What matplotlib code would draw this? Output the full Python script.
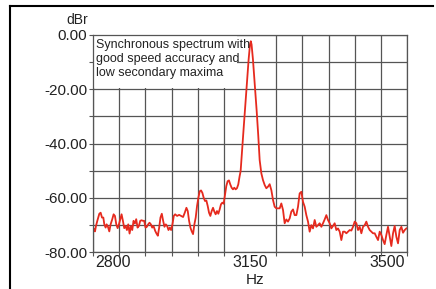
import numpy as np
import matplotlib
matplotlib.use("Agg")
import matplotlib.pyplot as plt
from matplotlib.lines import Line2D
from matplotlib.patches import Rectangle

# spectrum: frequency (Hz) and level (dBr)
freq = [2752.5, 2755.1, 2757.6, 2761.0, 2766.1, 2769.5, 2772.9, 2776.3, 2778.8, 2782.2,
        2784.7, 2788.1, 2791.5, 2794.9, 2799.1, 2802.5, 2805.9, 2809.3, 2812.7, 2816.1,
        2819.5, 2822.8, 2826.2, 2829.6, 2833.0, 2836.4, 2839.8, 2843.2, 2846.6, 2850.0,
        2853.3, 2856.7, 2860.1, 2863.5, 2866.9, 2870.3, 2873.7, 2877.1, 2880.4, 2883.8,
        2887.2, 2890.6, 2894.0, 2897.4, 2900.8, 2904.2, 2908.4, 2911.8, 2915.2, 2918.6,
        2921.9, 2925.3, 2928.7, 2932.1, 2935.5, 2938.9, 2942.3, 2945.7, 2949.0, 2952.4,
        2955.8, 2959.2, 2964.3, 2969.4, 2974.5, 2979.5, 2983.8, 2988.0, 2991.4, 2994.8,
        2998.2, 3001.6, 3004.9, 3008.3, 3011.7, 3015.1, 3018.5, 3021.9, 3025.3, 3028.7,
        3032.0, 3035.4, 3038.8, 3042.2, 3045.6, 3049.0, 3052.4, 3055.8, 3059.1, 3062.5,
        3065.9, 3069.3, 3072.7, 3076.1, 3079.5, 3082.9, 3086.3, 3089.6, 3093.0, 3096.4,
        3099.8, 3103.2, 3106.6, 3110.0, 3113.4, 3116.7, 3120.1, 3123.5, 3126.1,
        3130.0, 3134.0, 3138.0, 3142.0, 3146.5, 3150.0, 3152.0, 3154.0, 3157.5, 3162.0,
        3167.0, 3171.0, 3174.6, 3178.9, 3183.1, 3187.4, 3191.6, 3195.9, 3200.1, 3204.4,
        3208.6, 3212.8, 3217.1, 3221.3, 3225.6, 3229.8, 3234.1, 3238.3, 3242.6, 3246.8,
        3251.1, 3255.3, 3259.6, 3263.8, 3268.1, 3272.3, 3276.5, 3280.8, 3285.0, 3289.3,
        3293.5, 3297.8, 3302.0, 3306.3, 3310.5, 3314.8, 3319.0, 3323.3, 3327.5, 3331.8,
        3336.0, 3340.2, 3344.5, 3348.7, 3353.0, 3357.2, 3361.5, 3365.7, 3370.0, 3374.2,
        3378.5, 3382.7, 3387.0, 3391.2, 3395.5, 3399.7, 3404.0, 3408.2, 3412.5, 3416.7,
        3421.0, 3425.2, 3429.5, 3433.7, 3437.9, 3442.2, 3446.4, 3450.7, 3454.9, 3459.2,
        3463.4, 3467.7, 3471.9, 3476.2, 3480.4, 3484.6, 3488.9, 3493.1, 3497.4, 3501.6,
        3505.9, 3510.1, 3514.4, 3518.6, 3522.9, 3527.1, 3531.4, 3535.6, 3539.9, 3544.1,
        3548.4]
level = [-71.6, -72.4, -70.4, -68.5, -65.9, -65.5, -67.3, -67.3, -69.8, -71.0,
         -69.8, -70.7, -72.4, -69.8, -67.9, -66.1, -66.7, -69.8, -71.2, -69.8,
         -67.9, -66.1, -68.5, -71.2, -70.4, -71.9, -69.8, -73.2, -70.4, -71.9,
         -68.5, -69.5, -67.9, -71.0, -70.4, -68.5, -68.3, -68.5, -68.5, -71.0,
         -70.7, -69.8, -69.2, -69.8, -71.0, -70.4, -72.2, -73.2, -74.0, -71.0,
         -67.3, -65.9, -68.5, -70.7, -69.8, -70.4, -71.9, -71.0, -71.9, -69.8,
         -66.7, -66.1, -66.7, -66.3, -66.7, -67.1, -65.5, -63.7, -64.9, -68.5,
         -71.0, -72.4, -73.4, -69.8, -67.3, -63.0, -60.0, -57.6, -57.3, -58.2,
         -60.0, -61.2, -61.0, -63.0, -65.5, -66.7, -64.9, -63.7, -65.1, -66.1,
         -64.9, -65.9, -64.3, -62.4, -61.8, -62.2, -58.8, -55.7, -53.9, -53.6,
         -55.1, -56.3, -56.9, -56.3, -56.9, -56.5, -55.1, -52.1, -50.2,
         -42.0, -34.0, -26.0, -17.5, -9.0, -3.5, -2.3, -3.5, -9.0, -18.0,
         -28.0, -37.0, -46.1, -51.0, -53.5, -55.3, -56.5, -55.9, -55.0, -57.2,
         -60.8, -63.3, -63.9, -63.9, -63.9, -62.1, -64.5, -69.4, -68.0, -68.8,
         -67.6, -65.1, -64.3, -66.4, -66.4, -63.3, -58.4, -57.8, -61.5, -63.3,
         -66.4, -68.8, -72.5, -70.1, -71.3, -68.2, -70.7, -70.1, -69.4, -70.7,
         -69.4, -68.0, -66.4, -68.2, -69.4, -71.3, -70.4, -69.4, -71.9, -71.3,
         -72.5, -75.6, -72.5, -72.5, -73.1, -72.5, -71.9, -72.1, -70.7, -68.8,
         -69.4, -71.9, -70.7, -73.1, -70.7, -70.1, -68.8, -70.7, -71.9, -72.5,
         -73.1, -73.1, -74.4, -75.6, -72.5, -73.7, -75.6, -77.1, -73.7, -70.7,
         -74.4, -77.8, -73.1, -70.4, -74.4, -76.8, -71.9, -70.7, -72.9, -71.9,
         -71.3]

x_ticks = [2800, 3150, 3500]
y_ticks = [-80, -60, -40, -20, 0]
note = "Synchronous spectrum with\ngood speed accuracy and\nlow secondary maxima"

plt.rcParams['font.family'] = ['Liberation Sans', 'DejaVu Sans']

fig = plt.figure(figsize=(4.36, 2.89), dpi=100)
ax = fig.add_axes([0.2133, 0.128, 0.7202, 0.7509])

grid_col = '#555555'
ax.set_xlim(2750, 3550)
ax.set_ylim(-80, 0)

ax.set_xticks(x_ticks)
ax.set_xticks(np.linspace(2750, 3550, 13), minor=True)
ax.set_yticks(y_ticks)
ax.set_yticks(np.arange(-80, 1, 10), minor=True)
ax.set_yticklabels(["%.2f" % v for v in y_ticks])

ax.tick_params(axis='x', which='major', length=0, pad=2.5, labelsize=11.5, labelcolor='#222222')
ax.tick_params(axis='x', which='minor', length=3, width=0.8, color=grid_col, direction='out')
ax.tick_params(axis='y', which='both', length=3, width=0.8, color=grid_col, pad=1,
               labelsize=11, labelcolor='#222222')

ax.grid(False, which='major', axis='x')
ax.grid(True, which='minor', axis='x', color=grid_col, lw=0.9)
ax.grid(True, which='both', axis='y', color=grid_col, lw=0.9)
ax.set_axisbelow(True)
for s in ax.spines.values():
    s.set_color(grid_col)
    s.set_linewidth(0.9)
    s.set_zorder(2.5)

# white patch behind the note, hides the grid there
ax.add_patch(Rectangle((2750, -19.6), 367, 19.6, facecolor='white', edgecolor='none', zorder=1.5))
ax.text(2757, -1.6, note, fontsize=9, va='top', ha='left', linespacing=1.2,
        color='#222222', zorder=3)

ax.plot(freq, level, color='#e62a1e', lw=1.3, zorder=2)

fig.text(88 / 436, 1 - 20 / 289, "dBr", fontsize=10, ha='right', va='center', color='#222222')
fig.text(255 / 436, 1 - 280 / 289, "Hz", fontsize=11, ha='center', va='center', color='#222222')

# frame lines of the original picture
fig.add_artist(Line2D([10 / 436, 10 / 436], [0, 1 - 6 / 289], color='black', lw=1.5))
fig.add_artist(Line2D([10 / 436, 433 / 436], [1 - 6 / 289, 1 - 6 / 289], color='black', lw=1.5))

fig.savefig("out.png", dpi=100)
